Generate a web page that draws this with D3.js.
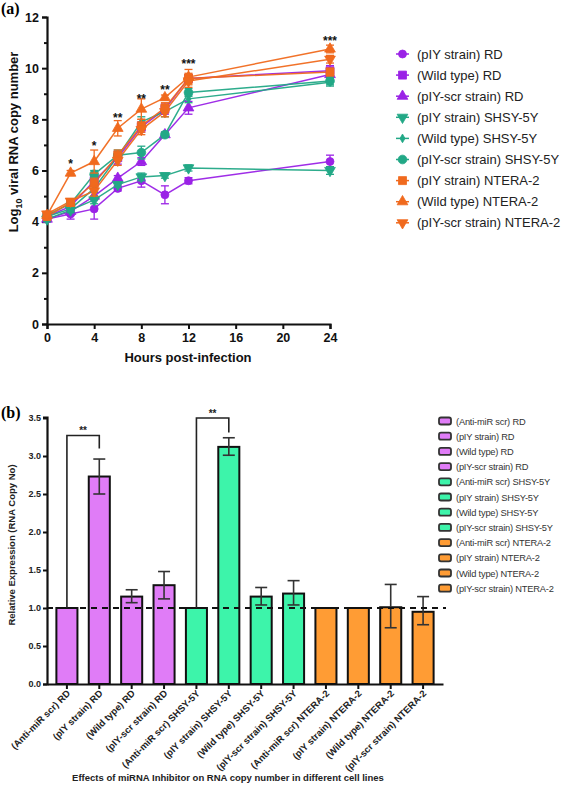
<!DOCTYPE html>
<html><head><meta charset="utf-8">
<script src="https://cdn.jsdelivr.net/npm/d3@7"></script>
<style>
body{margin:0;background:#fff;}
svg{display:block;font-family:"Liberation Sans",Arial,sans-serif;}
</style></head>
<body><svg id="c" width="564" height="787"></svg>
<script>
// ---------- Panel (a) data ----------
const hours = [0, 2, 4, 6, 8, 10, 12, 24];
const lineNames = ["(pIY strain) RD","(Wild type) RD","(pIY-scr strain) RD","(pIY strain) SHSY-5Y","(Wild type) SHSY-5Y","(pIY-scr strain) SHSY-5Y","(pIY strain) NTERA-2","(Wild type) NTERA-2","(pIY-scr strain) NTERA-2"];
const pIY_RD       = [4.10, 4.30, 4.50, 5.30, 5.60, 5.05, 5.60, 6.35];
const wild_RD      = [4.20, 4.60, 5.60, 6.50, 7.70, 8.40, 9.60, 9.90];
const scr_RD       = [4.10, 4.40, 5.00, 5.70, 6.35, 7.40, 8.45, 9.75];
const pIY_SHSY     = [4.10, 4.45, 4.85, 5.45, 5.75, 5.80, 6.10, 6.00];
const wild_SHSY    = [4.20, 4.50, 5.30, 6.55, 7.90, 8.30, 8.80, 9.45];
const scr_SHSY     = [4.25, 4.70, 5.85, 6.60, 6.70, 7.40, 9.05, 9.50];
const pIY_NTERA    = [4.20, 4.75, 5.50, 6.60, 7.75, 8.45, 9.60, 9.85];
const wild_NTERA   = [4.25, 5.90, 6.35, 7.65, 8.40, 8.85, 9.65, 10.75];
const scr_NTERA    = [4.30, 4.80, 5.20, 6.40, 7.60, 8.30, 9.50, 10.35];
const err_pIY_RD     = [0.10, 0.20, 0.40, 0.10, 0.25, 0.35, 0.12, 0.25];
const err_wild_RD    = [0.10, 0.15, 0.20, 0.25, 0.20, 0.20, 0.15, 0.20];
const err_scr_RD     = [0.10, 0.15, 0.15, 0.10, 0.15, 0.10, 0.25, 0.15];
const err_pIY_SHSY   = [0.10, 0.10, 0.15, 0.10, 0.15, 0.10, 0.12, 0.15];
const err_wild_SHSY  = [0.10, 0.10, 0.15, 0.15, 0.20, 0.20, 0.15, 0.15];
const err_scr_SHSY   = [0.10, 0.15, 0.15, 0.20, 0.25, 0.10, 0.15, 0.15];
const err_pIY_NTERA  = [0.10, 0.15, 0.20, 0.20, 0.25, 0.20, 0.20, 0.15];
const err_wild_NTERA = [0.10, 0.10, 0.45, 0.30, 0.40, 0.10, 0.30, 0.15];
const err_scr_NTERA  = [0.10, 0.10, 0.20, 0.20, 0.20, 0.20, 0.25, 0.15];
const starHours  = [2, 4, 6, 8, 10, 12, 24];
const starLabels = ["*", "*", "**", "**", "**", "***", "***"];
const starLevels = [6.3, 7.0, 8.1, 8.85, 9.2, 10.2, 11.1];
const yTicksA = [0, 2, 4, 6, 8, 10, 12];
const xTicksA = [0, 4, 8, 12, 16, 20, 24];

// ---------- Panel (b) data ----------
const barLabels = ["(Anti-miR scr) RD","(pIY strain) RD","(Wild type) RD","(pIY-scr strain) RD","(Anti-miR scr) SHSY-5Y","(pIY strain) SHSY-5Y","(Wild type) SHSY-5Y","(pIY-scr strain) SHSY-5Y","(Anti-miR scr) NTERA-2","(pIY strain) NTERA-2","(Wild type) NTERA-2","(pIY-scr strain) NTERA-2"];
const barValues  = [1.00, 2.73, 1.15, 1.30, 1.00, 3.12, 1.15, 1.19, 1.00, 1.00, 1.01, 0.95];
const barErrLow  = [1.00, 2.50, 1.07, 1.12, 1.00, 3.01, 1.04, 1.04, 1.00, 1.00, 0.74, 0.78];
const barErrHigh = [1.00, 2.96, 1.24, 1.48, 1.00, 3.24, 1.27, 1.36, 1.00, 1.00, 1.31, 1.15];
const barGroups  = ["RD","RD","RD","RD","SHSY","SHSY","SHSY","SHSY","NTERA","NTERA","NTERA","NTERA"];
const yTicksB = [0, 0.5, 1.0, 1.5, 2.0, 2.5, 3.0, 3.5];
const brackets = [{from: 0, to: 1, top: 3.27, end: 3.10, label: "**"}, {from: 4, to: 5, top: 3.50, end: 3.31, label: "**"}];

// ---------- Styling ----------
const cPurple = "#9a22e6", cTeal = "#22a886", cOrange = "#f06a1e";
const barColor = {RD: "#e07cf7", SHSY: "#3df4aa", NTERA: "#ff9c34"};
const svg = d3.select("#c");

// ===== Panel (a) =====
const seriesA = [
  {name: lineNames[0], v: pIY_RD, e: err_pIY_RD, c: cPurple, m: "circle"},
  {name: lineNames[1], v: wild_RD, e: err_wild_RD, c: cPurple, m: "square"},
  {name: lineNames[2], v: scr_RD, e: err_scr_RD, c: cPurple, m: "triUp"},
  {name: lineNames[3], v: pIY_SHSY, e: err_pIY_SHSY, c: cTeal, m: "triDown"},
  {name: lineNames[4], v: wild_SHSY, e: err_wild_SHSY, c: cTeal, m: "diamond"},
  {name: lineNames[5], v: scr_SHSY, e: err_scr_SHSY, c: cTeal, m: "circleBig"},
  {name: lineNames[6], v: pIY_NTERA, e: err_pIY_NTERA, c: cOrange, m: "square"},
  {name: lineNames[7], v: wild_NTERA, e: err_wild_NTERA, c: cOrange, m: "triUp"},
  {name: lineNames[8], v: scr_NTERA, e: err_scr_NTERA, c: cOrange, m: "triDown"}
];
const xA = d3.scaleLinear().domain([0, 24]).range([47, 330]);
const yA = d3.scaleLinear().domain([0, 12]).range([324, 17]);

const symMap = {
  circle: [d3.symbolCircle, 50], circleBig: [d3.symbolCircle, 60], square: [d3.symbolSquare, 64],
  triUp: [d3.symbolTriangle, 50], triDown: [d3.symbolTriangle, 50], diamond: [d3.symbolDiamond, 22]
};
function marker(g, m, col, x, y) {
  const [t, s] = symMap[m];
  g.append("path").attr("d", d3.symbol().type(t).size(s)())
    .attr("transform", `translate(${x},${y})` + (m === "triDown" ? " rotate(180)" : ""))
    .attr("fill", col).attr("stroke", col).attr("stroke-width", 0.8);
}

const gA = svg.append("g");
// axes
const yAxisA = d3.axisLeft(yA).tickValues(yTicksA).tickSize(5).tickPadding(3).tickFormat(d3.format("d"));
const yMinorA = d3.axisLeft(yA).tickValues([1,3,5,7,9,11]).tickSize(3).tickFormat("");
const xAxisA = d3.axisBottom(xA).tickValues(xTicksA).tickSize(5).tickPadding(4).tickFormat(d3.format("d"));
const gyA = gA.append("g").attr("transform", "translate(47,0)").call(yAxisA);
gA.append("g").attr("transform", "translate(47,0)").call(yMinorA).select(".domain").remove();
const gxA = gA.append("g").attr("transform", "translate(0,324)").call(xAxisA);
[gyA, gxA].forEach(g => {
  g.select(".domain").attr("stroke", "#111").attr("stroke-width", 2.2);
  g.selectAll(".tick line").attr("stroke", "#111").attr("stroke-width", 2);
  g.selectAll(".tick text").attr("font-size", 12.5).attr("font-weight", "bold").attr("fill", "#111")
    .attr("font-family", "Liberation Sans, Arial, sans-serif");
});
gA.selectAll(".tick line").attr("stroke", "#111").attr("stroke-width", 2);

// lines, error bars, markers
const lineGen = d3.line().x((d, i) => xA(hours[i])).y(d => yA(d));
seriesA.forEach(s => {
  gA.append("path").datum(s.v).attr("d", lineGen).attr("fill", "none")
    .attr("stroke", s.c).attr("stroke-width", 1.5).attr("opacity", 0.95);
});
seriesA.forEach(s => {
  const eg = gA.append("g").attr("stroke", s.c).attr("stroke-width", 1.3);
  s.v.forEach((v, i) => {
    const x = xA(hours[i]), y1 = yA(v - s.e[i]), y2 = yA(v + s.e[i]);
    eg.append("line").attr("x1", x).attr("x2", x).attr("y1", y1).attr("y2", y2);
    eg.append("line").attr("x1", x - 4).attr("x2", x + 4).attr("y1", y1).attr("y2", y1);
    eg.append("line").attr("x1", x - 4).attr("x2", x + 4).attr("y1", y2).attr("y2", y2);
  });
  s.v.forEach((v, i) => marker(gA, s.m, s.c, xA(hours[i]), yA(v)));
});
// significance stars
starHours.forEach((h, i) => {
  gA.append("text").attr("x", xA(h)).attr("y", yA(starLevels[i]) + 5)
    .attr("text-anchor", "middle").attr("font-size", 12).attr("font-weight", "bold").attr("fill", "#111")
    .text(starLabels[i]);
});
// axis titles
gA.append("text").attr("x", 188).attr("y", 362).attr("text-anchor", "middle")
  .attr("font-size", 13).attr("font-weight", "bold").attr("fill", "#111").text("Hours post-infection");
const yt = gA.append("text").attr("transform", "translate(18,142) rotate(-90)").attr("text-anchor", "middle")
  .attr("font-size", 13).attr("font-weight", "bold").attr("fill", "#111");
yt.append("tspan").text("Log");
yt.append("tspan").text("10").attr("font-size", 9).attr("dy", 4);
yt.append("tspan").text(" viral RNA copy number").attr("dy", -4);
// legend (a)
const legA = gA.append("g");
seriesA.forEach((s, i) => {
  const y = 54 + i * 21.1;
  legA.append("line").attr("x1", 396).attr("x2", 409).attr("y1", y).attr("y2", y).attr("stroke", s.c).attr("stroke-width", 1.5);
  marker(legA, s.m, s.c, 402.5, y);
  legA.append("text").attr("x", 417).attr("y", y + 4.5).attr("font-size", 13).attr("fill", "#222").text(s.name);
});
svg.append("text").attr("x", 1).attr("y", 14).attr("font-family", "Liberation Serif, Times New Roman, serif")
  .attr("font-weight", "bold").attr("font-size", 16).text("(a)");

// ===== Panel (b) =====
const gB = svg.append("g");
const xB = d3.scaleBand().domain(barLabels).range([47, 443]).paddingInner(0.35).paddingOuter(0.29);
const yB = d3.scaleLinear().domain([0, 3.5]).range([684, 418]);

const yAxisB = d3.axisLeft(yB).tickValues(yTicksB).tickSize(4).tickPadding(2).tickFormat(d3.format(".1f"));
const xAxisB = d3.axisBottom(xB).tickSize(5).tickSizeOuter(0).tickFormat("");
const gyB = gB.append("g").attr("transform", "translate(47,0)").call(yAxisB);
const gxB = gB.append("g").attr("transform", "translate(0,684)").call(xAxisB);
[gyB, gxB].forEach(g => {
  g.select(".domain").attr("stroke", "#111").attr("stroke-width", 2.2);
  g.selectAll(".tick line").attr("stroke", "#111").attr("stroke-width", 2);
});
gyB.select(".domain").attr("d", "M-4,684.5H0.5V417.5H-4");
gyB.selectAll(".tick text").attr("font-size", 9).attr("font-weight", "bold").attr("fill", "#222")
  .attr("font-family", "Liberation Sans, Arial, sans-serif");

// bars
gB.selectAll("rect.bar").data(barLabels).join("rect").attr("class", "bar")
  .attr("x", d => xB(d)).attr("width", xB.bandwidth())
  .attr("y", (d, i) => yB(barValues[i])).attr("height", (d, i) => yB(0) - yB(barValues[i]))
  .attr("fill", (d, i) => barColor[barGroups[i]]).attr("stroke", "#111").attr("stroke-width", 2);
// error bars
barLabels.forEach((d, i) => {
  if (barErrHigh[i] - barErrLow[i] < 0.001) return;
  const cx = xB(d) + xB.bandwidth() / 2, y1 = yB(barErrLow[i]), y2 = yB(barErrHigh[i]);
  const eg = gB.append("g").attr("stroke", "#333").attr("stroke-width", 1.6);
  eg.append("line").attr("x1", cx).attr("x2", cx).attr("y1", y1).attr("y2", y2);
  eg.append("line").attr("x1", cx - 6).attr("x2", cx + 6).attr("y1", y1).attr("y2", y1);
  eg.append("line").attr("x1", cx - 6).attr("x2", cx + 6).attr("y1", y2).attr("y2", y2);
});
// dashed reference line
gB.append("line").attr("x1", 47).attr("x2", 446).attr("y1", yB(1)).attr("y2", yB(1))
  .attr("stroke", "#111").attr("stroke-width", 2).attr("stroke-dasharray", "6,5");
// brackets
brackets.forEach(b => {
  const x1 = xB(barLabels[b.from]) + xB.bandwidth() / 2, x2 = xB(barLabels[b.to]) + xB.bandwidth() / 2;
  gB.append("path").attr("d", `M${x1},${yB(barValues[b.from])}V${yB(b.top)}H${x2}V${yB(b.end)}`)
    .attr("fill", "none").attr("stroke", "#222").attr("stroke-width", 1.6);
  gB.append("text").attr("x", (x1 + x2) / 2).attr("y", yB(b.top) - 1).attr("text-anchor", "middle")
    .attr("font-size", 10).attr("font-weight", "bold").attr("fill", "#222").text(b.label);
});
// rotated x labels
barLabels.forEach(d => {
  const cx = xB(d) + xB.bandwidth() / 2;
  gB.append("text").attr("transform", `translate(${cx + 4},${694}) rotate(-45)`)
    .attr("text-anchor", "end").attr("font-size", 9.5).attr("font-weight", "bold").attr("fill", "#222").text(d);
});
// axis titles
gB.append("text").attr("x", 228).attr("y", 781).attr("text-anchor", "middle")
  .attr("font-size", 9.5).attr("font-weight", "bold").attr("fill", "#222")
  .text("Effects of miRNA Inhibitor on RNA copy number in different cell lines");
gB.append("text").attr("transform", "translate(15,545) rotate(-90)").attr("text-anchor", "middle")
  .attr("font-size", 9.5).attr("font-weight", "bold").attr("fill", "#222").text("Relative Expression (RNA Copy No)");
// legend (b)
barLabels.forEach((d, i) => {
  const y = 421 + i * 15.2;
  gB.append("rect").attr("x", 439).attr("y", y - 3.5).attr("width", 12).attr("height", 7).attr("rx", 2)
    .attr("fill", barColor[barGroups[i]]).attr("stroke", "#333").attr("stroke-width", 1.8);
  gB.append("text").attr("x", 456).attr("y", y + 3.5).attr("font-size", 9.3).attr("letter-spacing", -0.2)
    .attr("fill", "#333").text(d);
});
svg.append("text").attr("x", 1).attr("y", 418).attr("font-family", "Liberation Serif, Times New Roman, serif")
  .attr("font-weight", "bold").attr("font-size", 16).text("(b)");
</script></body></html>
